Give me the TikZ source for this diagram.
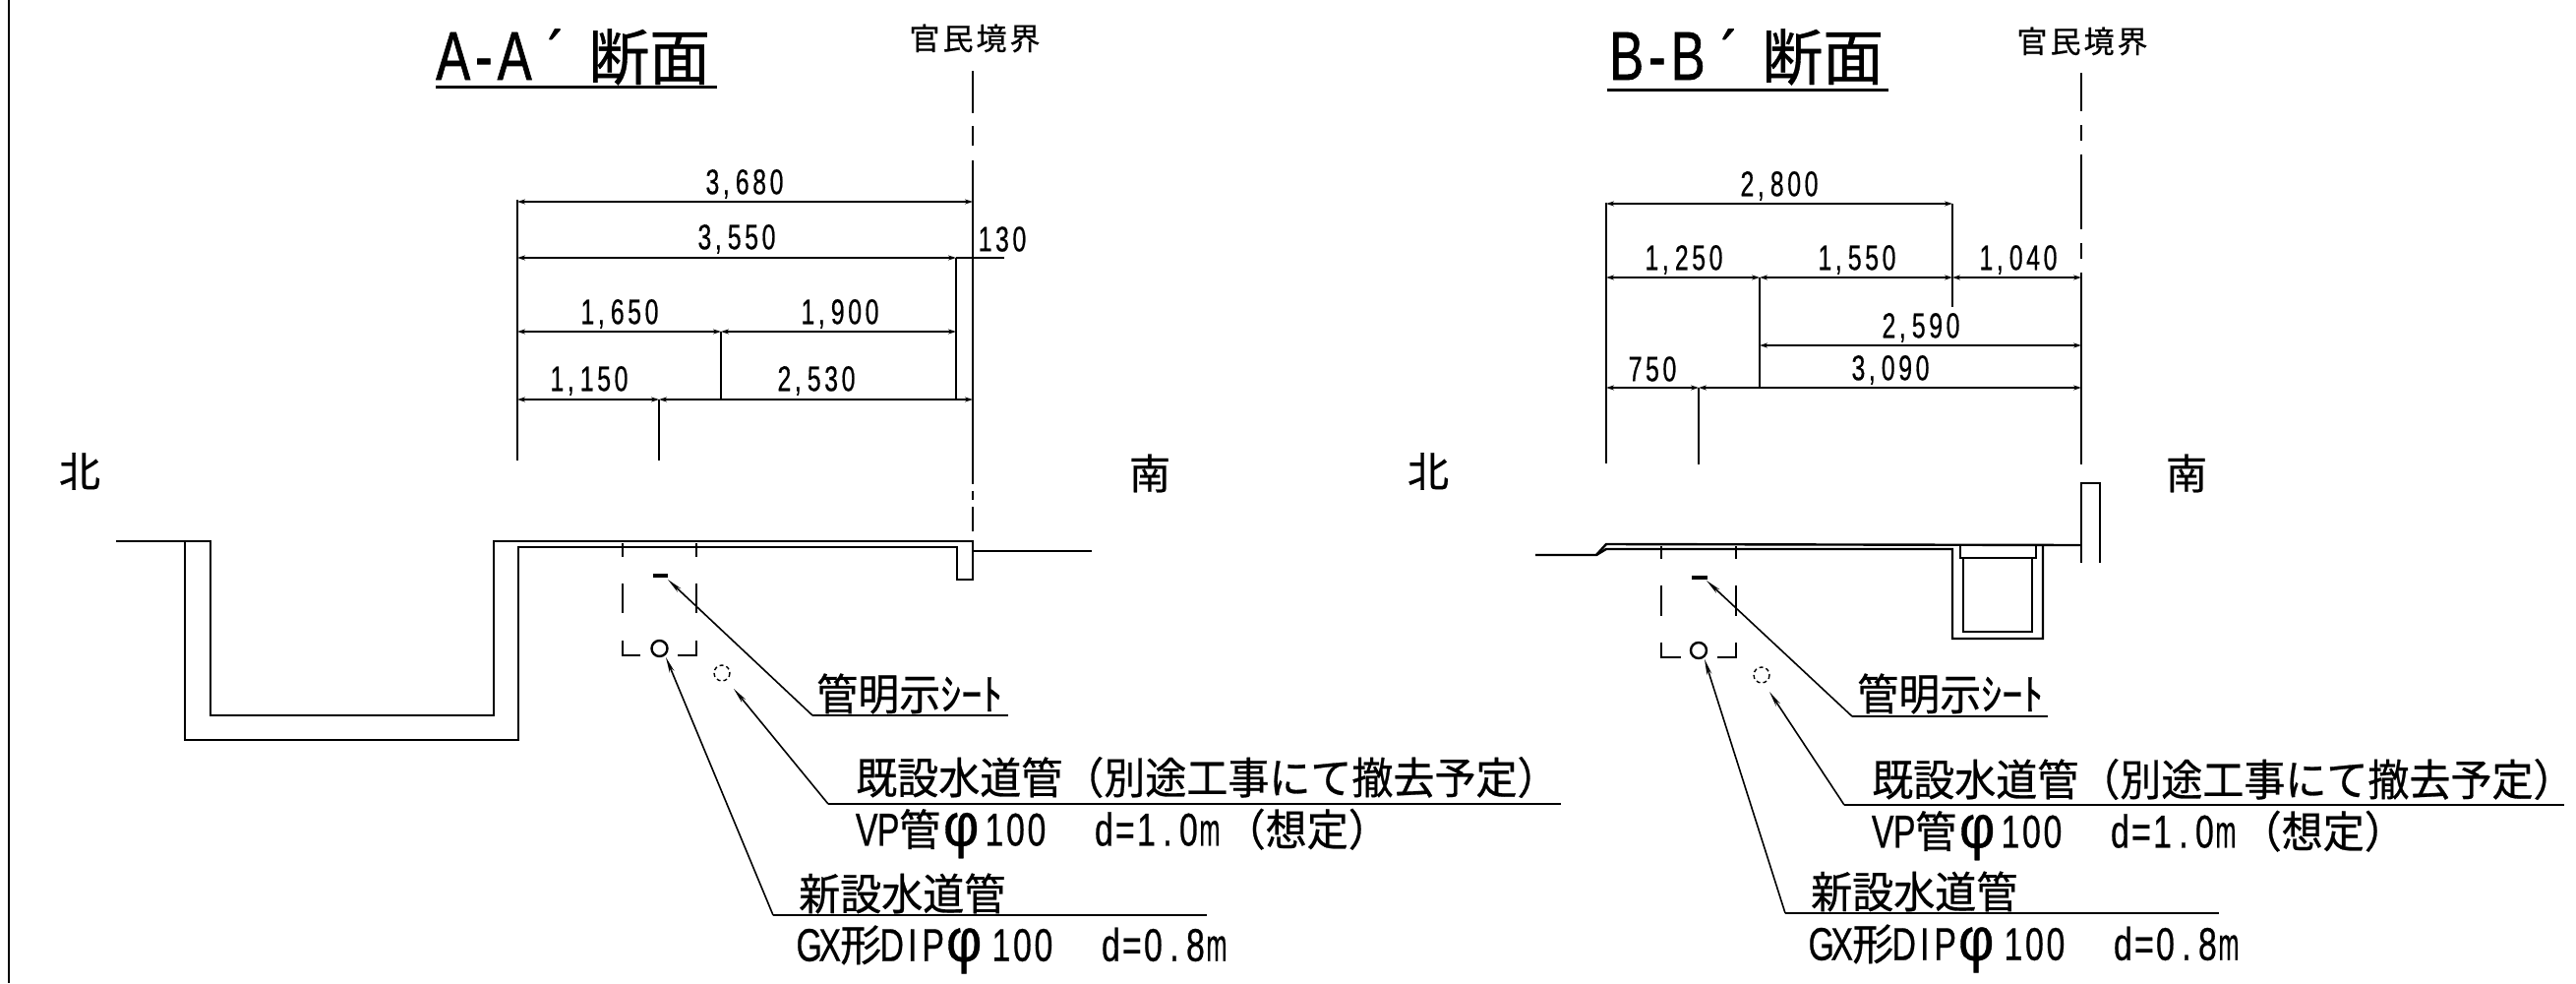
\documentclass[tikz,border=0pt]{standalone}
\usepackage{fontspec}
\usetikzlibrary{arrows.meta}
\setmainfont{Liberation Sans}
\newfontfamily\cjk[FakeBold=0.6]{Noto Sans CJK JP}
\newfontfamily\cjkn[FakeBold=0.6,FakeStretch=.955]{Noto Sans CJK JP}
\newfontfamily\dimf[FakeStretch=.69,LetterSpace=10,FakeBold=0.5]{Liberation Sans}
\newfontfamily\labf[FakeStretch=.72,FakeBold=0.5]{Liberation Sans}
\newfontfamily\ttlf[FakeStretch=.75,FakeBold=0.9]{Liberation Sans}
\newcommand{\dimfs}{\fontsize{36}{38}\selectfont\dimf}
\newcommand{\labfs}{\fontsize{47}{48}\selectfont\labf}
\newcommand{\cjkfs}{\fontsize{44}{46}\selectfont\cjkn}
\newcommand{\ttl}[3]{\fontsize{70}{72}\selectfont\ttlf #1\kern5pt-\kern5pt#2\kern16pt\raisebox{0pt}{´}\kern24pt\cjk\fontsize{62}{64}\selectfont #3}
\newcommand{\hc}[2]{\makebox[#1pt][c]{#2}}
\newcommand{\phic}{\hc{42}{\scalebox{1.25}[1]{\fontsize{62}{62}\selectfont\labf φ}}}
\newcommand{\lineVP}{\labfs\hc{22}{V}\hc{22}{P}\hc{42}{\cjkfs 管}\labfs\phic\labfs\kern2pt\hc{21.5}{1}\hc{21.5}{0}\hc{21.5}{0}\kern47pt\hc{21.5}{d}\hc{21.5}{=}\hc{21.5}{1}\hc{21.5}{.}\hc{21.5}{0}\hc{21.5}{\scalebox{.75}[1]{m}}\kern4pt\cjkfs（想定）}
\newcommand{\lineGX}{\labfs\hc{21}{G}\hc{21}{X}\hc{42}{\cjkfs 形}\labfs\hc{21}{D}\hc{21}{I}\hc{21}{P}\phic\labfs\kern6pt\hc{21.5}{1}\hc{21.5}{0}\hc{21.5}{0}\kern47pt\hc{21.5}{d}\hc{21.5}{=}\hc{21.5}{0}\hc{21.5}{.}\hc{21.5}{8}\hc{21.5}{\scalebox{.75}[1]{m}}}
\newcommand{\bt}{官\kern3pt 民\kern3pt 境\kern3pt 界}
\tikzset{
 thinl/.style={line width=1.6pt,black},
 geo/.style={line width=2.4pt,black},
 dimline/.style={line width=2.6pt,black,{Stealth[length=8pt,width=5pt]}-{Stealth[length=8pt,width=5pt]}},
 dimtxt/.style={inner sep=0pt,font=\dimfs},
 lab/.style={inner sep=0pt,anchor=west},
 cjklab/.style={inner sep=0pt,anchor=west,font=\cjkfs},
 dir/.style={inner sep=0pt,font=\fontsize{42}{44}\selectfont\cjk},
 bound/.style={inner sep=0pt,font=\fontsize{31}{32}\selectfont\cjk},
 leader/.style={line width=1.6pt,black,{Stealth[length=16pt,width=5pt]}-},
 shelf/.style={line width=2.4pt,black},
 ttlnode/.style={inner sep=0pt,anchor=west},
 ttlrule/.style={line width=3pt,black},
 bnddash/.style={line width=1.8pt,black},
 pipe/.style={line width=2.4pt,black},
 oldpipe/.style={line width=1.4pt,black,dash pattern=on 4pt off 3pt},
 sheet/.style={line width=3.2pt,black},
}
\begin{document}
\begin{tikzpicture}[x=1pt,y=-1pt]
\useasboundingbox (0,0) rectangle (2619,999);
\fill[white] (0,0) rectangle (2619,999);
% frame
\draw[line width=2.4pt] (9,0) -- (9,999);

%%%% A-A
\node[ttlnode] (ta) at (443,58) {\ttl{A}{A}{断面}};
\draw[ttlrule] (443,88) -- (729,88);
\node[bound] (ba) at (991,39) {\bt};
\draw[bnddash] (989,72)--(989,115) (989,128)--(989,148) (989,163)--(989,492) (989,499)--(989,508) (989,515)--(989,540);
% extension
\draw[thinl] (526,203)--(526,468);
\draw[thinl] (733,337)--(733,406);
\draw[thinl] (972,262)--(972,406);
\draw[thinl] (670,406)--(670,468);
% dims
\draw[dimline] (526,205)--(989,205);
\draw[dimline] (526,262)--(972,262);
\draw[geo] (972,262)--(1021,262);
\draw[dimline] (526,337)--(733,337);
\draw[dimline] (733,337)--(972,337);
\draw[dimline] (526,406)--(670,406);
\draw[dimline] (670,406)--(989,406);
\node[dimtxt] (a1) at (757,187) {3,\kern6pt 680};
\node[dimtxt] (a2) at (749,243) {3,\kern6pt 550};
\node[dimtxt] (a3) at (1019,243) {130};
\node[dimtxt] (a4) at (630,319) {1,\kern6pt 650};
\node[dimtxt] (a5) at (854,319) {1,\kern6pt 900};
\node[dimtxt] (a6) at (599,387) {1,\kern6pt 150};
\node[dimtxt] (a7) at (830,387) {2,\kern6pt 530};
\node[dir] (an) at (81,479) {北};
\node[dir] (as) at (1169,481) {南};
% ground
\draw[geo] (118,550)--(214,550)--(214,727)--(502,727)--(502,550)--(989,550)--(989,589)--(973,589)--(973,556)--(527,556)--(527,752)--(188,752)--(188,550);
\draw[geo] (989,560)--(1110,560);
% trench
\draw[thinl] (633,552)--(633,566) (708,552)--(708,566) (633,593)--(633,623) (708,593)--(708,623);
\draw[thinl] (633,651)--(633,666)--(651,666) (708,651)--(708,666)--(689,666);
\draw[sheet] (664,585)--(679,585);
\draw[pipe] (670.5,659) circle (8);
\draw[oldpipe] (734,684) circle (8);
% leaders
\coordinate (a-s) at (679,589);
\coordinate (a-sk) at (826,727);
\coordinate (a-se) at (1025,727);
\draw[leader] (a-s)--(a-sk);
\draw[shelf] (a-sk)--(a-se);
\node[cjklab] (al1) at (830,705) {管明示ｼｰﾄ};
\coordinate (a-e) at (746,700);
\coordinate (a-ek) at (842,817);
\coordinate (a-ee) at (1587,817);
\draw[leader] (a-e)--(a-ek);
\draw[shelf] (a-ek)--(a-ee);
\node[cjklab] (al2) at (870,790) {既設水道管（別途工事にて撤去予定）};
\node[lab] (al3) at (870,847) {\lineVP};
\coordinate (a-n) at (677,668);
\coordinate (a-nk) at (786,930);
\coordinate (a-ne) at (1227,930);
\draw[leader] (a-n)--(a-nk);
\draw[shelf] (a-nk)--(a-ne);
\node[cjklab] (al4) at (812,908) {新設水道管};
\node[lab] (al5) at (812,965) {\lineGX};

%%%% B-B
\node[ttlnode] (tb) at (1636,58) {\ttl{B}{B}{断面}};
\draw[ttlrule] (1634,91) -- (1920,91);
\node[bound] (bb) at (2117,42) {\bt};
\draw[bnddash] (2116,74)--(2116,113) (2116,127)--(2116,143) (2116,157)--(2116,233) (2116,247)--(2116,263) (2116,277)--(2116,472);
\draw[thinl] (1633,206)--(1633,471);
\draw[thinl] (1985,207)--(1985,312);
\draw[thinl] (1789,282)--(1789,395);
\draw[thinl] (1727,394)--(1727,472);
\draw[dimline] (1633,207)--(1985,207);
\draw[dimline] (1633,282)--(1789,282);
\draw[dimline] (1789,282)--(1985,282);
\draw[dimline] (1985,282)--(2116,282);
\draw[dimline] (1789,351)--(2116,351);
\draw[dimline] (1633,394)--(1727,394);
\draw[dimline] (1727,394)--(2116,394);
\node[dimtxt] (b1) at (1809,189) {2,\kern6pt 800};
\node[dimtxt] (b2) at (1712,264) {1,\kern6pt 250};
\node[dimtxt] (b3) at (1888,264) {1,\kern6pt 550};
\node[dimtxt] (b4) at (2052,264) {1,\kern6pt 040};
\node[dimtxt] (b5) at (1953,333) {2,\kern6pt 590};
\node[dimtxt] (b6) at (1680,375) {750};
\node[dimtxt] (b7) at (1922,376) {3,\kern6pt 090};
\node[dir] (bn) at (1452,479) {北};
\node[dir] (bs) at (2223,481) {南};
% ground
\draw[geo] (1561,564)--(1623,564)--(1633,553)--(2116,554);
\draw[geo] (1623,564)--(1633,558)--(1985,558)--(1985,649)--(2077,649)--(2077,554);
\draw[geo] (1993,554)--(1993,567)--(2070,567)--(2070,554);
\draw[geo] (1996,567)--(1996,642)--(2066,642)--(2066,567);
\draw[geo] (2116,572)--(2116,491)--(2135,491)--(2135,572);
\draw[thinl] (1689,555)--(1689,568) (1765,555)--(1765,568) (1689,595)--(1689,626) (1765,595)--(1765,626);
\draw[thinl] (1689,653)--(1689,668)--(1709,668) (1765,653)--(1765,668)--(1746,668);
\draw[sheet] (1720,587)--(1736,587);
\draw[pipe] (1727,661) circle (8);
\draw[oldpipe] (1791,686) circle (8);
\coordinate (b-s) at (1735,590);
\coordinate (b-sk) at (1883,728);
\coordinate (b-se) at (2082,728);
\draw[leader] (b-s)--(b-sk);
\draw[shelf] (b-sk)--(b-se);
\node[cjklab] (bl1) at (1888,705) {管明示ｼｰﾄ};
\coordinate (b-e) at (1799,703);
\coordinate (b-ek) at (1875,818);
\coordinate (b-ee) at (2607,818);
\draw[leader] (b-e)--(b-ek);
\draw[shelf] (b-ek)--(b-ee);
\node[cjklab] (bl2) at (1903,792) {既設水道管（別途工事にて撤去予定）};
\node[lab] (bl3) at (1903,849) {\lineVP};
\coordinate (b-n) at (1733,670);
\coordinate (b-nk) at (1815,928);
\coordinate (b-ne) at (2256,928);
\draw[leader] (b-n)--(b-nk);
\draw[shelf] (b-nk)--(b-ne);
\node[cjklab] (bl4) at (1841,906) {新設水道管};
\node[lab] (bl5) at (1841,964) {\lineGX};
\end{tikzpicture}
\end{document}
